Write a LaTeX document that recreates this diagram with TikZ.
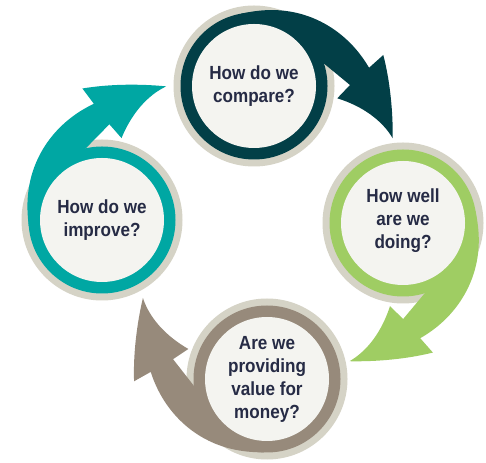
\documentclass[tikz,border=0pt]{standalone}
\usepackage{fontspec}
\setmainfont{Liberation Sans}[FakeStretch=0.9]
\definecolor{cdark}{HTML}{023F47}
\definecolor{cgreen}{HTML}{9FCD63}
\definecolor{cbrown}{HTML}{978A7B}
\definecolor{cteal}{HTML}{00A7A3}
\definecolor{cbeige}{HTML}{D5D3C6}
\definecolor{clight}{HTML}{F4F4F0}
\definecolor{ctext}{HTML}{262B45}
\tikzset{
  qtext/.style={align=center, text=ctext, font=\fontsize{19}{23}\selectfont\bfseries, inner sep=0pt},
}
\newcommand\spiralarrow[3]{% center, rotation, colour
  \begin{scope}[shift={#1}, rotate=#2]
    \fill[#3] plot[domain=100:9, samples=50, variable=\t] ({\t}:{73.5+0.0228*(100.5-\t)^1.67})
      -- (129.3,31)
      .. controls (136,5) and (139,-25) .. (138.7,-52.3)
      .. controls (128,-34) and (108,-20) .. (83.3,-12.3)
      -- (96,1) -- (67.7,24.3) -- (55,35)
      arc[start angle=32.5, end angle=100, radius=65.2] -- cycle;
  \end{scope}}
\newcommand\ringdisc[2]{%
  \fill[#2] #1 circle[radius=73.5];
  \fill[clight] #1 circle[radius=62];}
\begin{document}
\begin{tikzpicture}[x=1pt,y=1pt]
\fill[white] (0,0) rectangle (486,462);
\useasboundingbox (0,0) rectangle (486,462);
\coordinate (cT) at (254,376);
\coordinate (cR) at (403,239);
\coordinate (cB) at (267,83);
\coordinate (cL) at (102,242);
% beige backing discs
\foreach \c in {cT,cR,cB,cL} \fill[cbeige] (\c) circle[radius=80.5];
% spiral arrows
\spiralarrow{(cT)}{0}{cdark}
\spiralarrow{(cR)}{-90.5}{cgreen}
\spiralarrow{(cB)}{167.5}{cbrown}
\spiralarrow{(cL)}{85}{cteal}
% coloured rings and light centres
\ringdisc{(cT)}{cdark}
\ringdisc{(cR)}{cgreen}
\ringdisc{(cB)}{cbrown}
\ringdisc{(cL)}{cteal}
% texts
\node[qtext] (compare) at (cT) {How do we\\compare?};
\node[qtext] (doing) at ([yshift=2pt]cR) {How well\\are we\\doing?};
\node[qtext] (money) at (cB) {Are we\\providing\\value for\\money?};
\node[qtext] (improve) at (cL) {How do we\\improve?};
\end{tikzpicture}
\end{document}
